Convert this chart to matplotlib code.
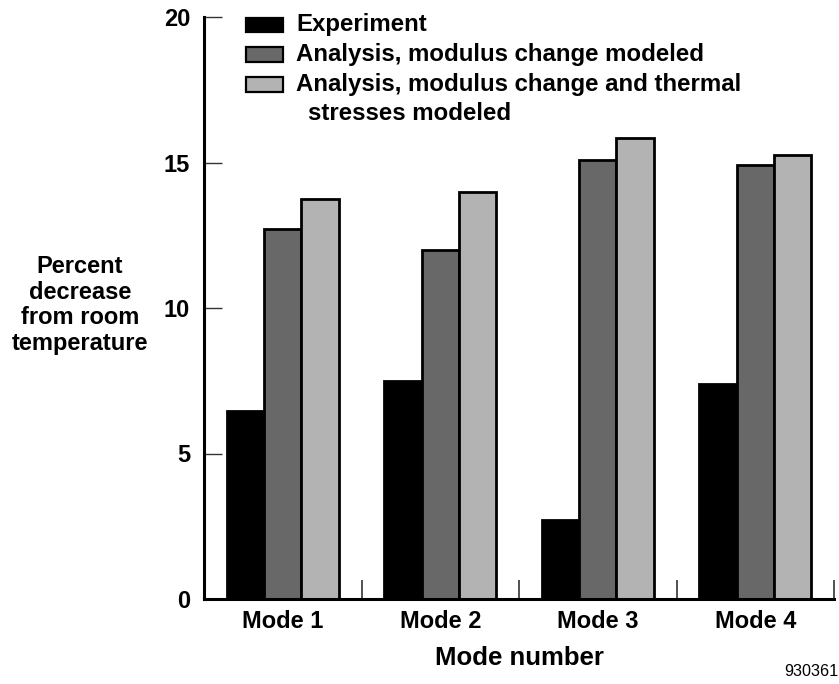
import matplotlib
matplotlib.use('Agg')
import matplotlib.pyplot as plt
from matplotlib.patches import Rectangle
import numpy as np

plt.rcParams['font.family'] = ['Liberation Sans', 'DejaVu Sans']

# data
modes = ['Mode 1', 'Mode 2', 'Mode 3', 'Mode 4']
experiment = [6.45, 7.5, 2.7, 7.4]
modulus_only = [12.7, 12.0, 15.1, 14.9]
modulus_thermal = [13.75, 14.0, 15.85, 15.25]

series_labels = ['Experiment',
                 'Analysis, modulus change modeled',
                 'Analysis, modulus change and thermal']
series_colors = ['#000000', '#686868', '#b3b3b3']

fig = plt.figure(figsize=(8.39, 6.84), dpi=100)
ax = fig.add_axes([204/839, 1 - 599/684, 630/839, 582/684])

x = np.arange(1, len(modes) + 1)
w = 0.238
for k, (vals, col) in enumerate(zip([experiment, modulus_only, modulus_thermal], series_colors)):
  ax.bar(x + (k - 1) * w, vals, width=w, color=col,
         edgecolor='black', linewidth=2.0, zorder=2)

ax.set_xlim(0.5, 4.5)
ax.set_ylim(0, 20)

# axes styling
for s in ['top', 'right']:
  ax.spines[s].set_visible(False)
ax.spines['left'].set_linewidth(2.2)
ax.spines['bottom'].set_linewidth(2.2)

ax.set_yticks([0, 5, 10, 15, 20])
ax.tick_params(axis='y', direction='in', length=13, width=1.0, color='#333333',
               labelsize=17, pad=10)
for lab in ax.get_yticklabels():
  lab.set_fontweight('bold')

ax.set_xticks(x)
ax.set_xticklabels(modes, fontsize=17, fontweight='bold')
ax.tick_params(axis='x', which='major', length=0, pad=8)
ax.set_xticks([1.5, 2.5, 3.5, 4.5], minor=True)
ax.tick_params(axis='x', which='minor', direction='in', length=14, width=1.2,
               color='#333333')

ax.set_xlabel('Mode number', fontsize=18.5, fontweight='bold', labelpad=9)

fig.text(80/839, 1 - 305/684, 'Percent\ndecrease\nfrom room\ntemperature',
         ha='center', va='center', fontsize=17, fontweight='bold',
         linespacing=1.15)

# legend drawn by hand so the wrapped label sits like the original
row_y = [25, 54.5, 84.5]
for yy, col, lab in zip(row_y, series_colors, series_labels):
  fig.patches.append(Rectangle((246/839, 1 - (yy + 7)/684), 37/839, 14/684,
                               transform=fig.transFigure, facecolor=col,
                               edgecolor='black', linewidth=1.6))
  fig.text(296/839, 1 - yy/684, lab, ha='left', va='center',
           fontsize=17.3, fontweight='bold')
fig.text(308/839, 1 - 113/684, 'stresses modeled', ha='left', va='center',
         fontsize=17.3, fontweight='bold')

fig.text(838/839, 1 - 671/684, '930361', ha='right', va='center', fontsize=11.7)

fig.savefig('out.png', dpi=100)
